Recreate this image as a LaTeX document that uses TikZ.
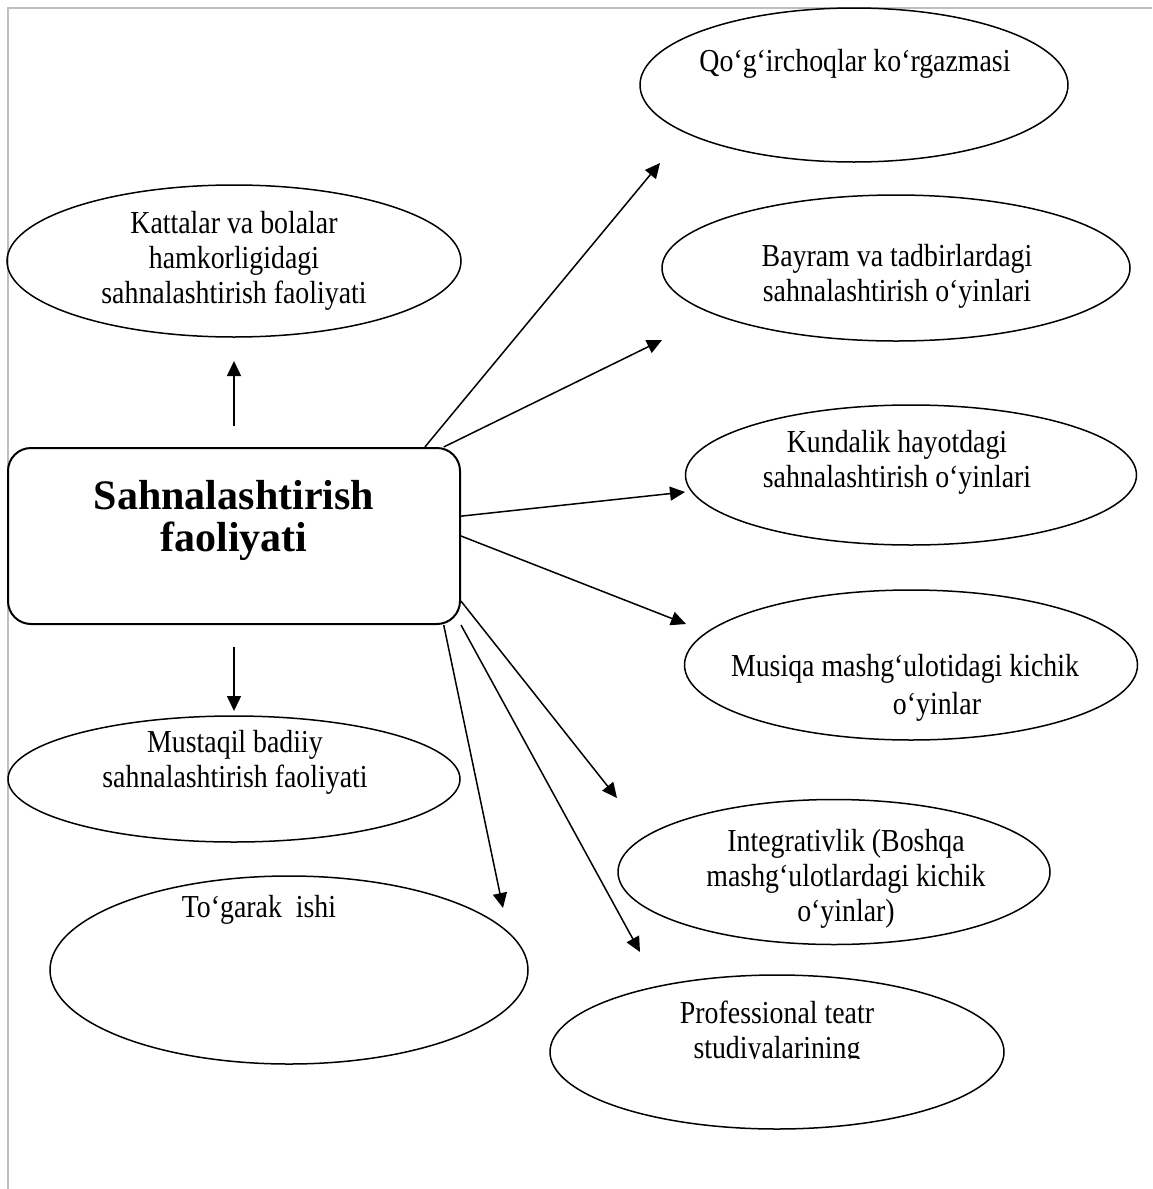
\documentclass[tikz,border=0pt]{standalone}
\usepackage{fontspec}
\setmainfont{Liberation Serif}
\newfontfamily\ovalfont[FakeStretch=0.87]{Liberation Serif}
\usetikzlibrary{shapes.geometric,arrows.meta,positioning}
\tikzset{
  oval/.style={ellipse, draw, line width=1.5pt, inner sep=0pt},
  ovaltext/.style={align=center, inner sep=0pt,
    font=\ovalfont\fontsize{32}{35}\selectfont},
  arr/.style={-{Triangle[length=15pt,width=14pt]}, line width=1.5pt}
}
\begin{document}
\begin{tikzpicture}[x=1pt,y=-1pt]
  \useasboundingbox (0,0) rectangle (1152,1189);
  \draw[black!25, line width=1.5pt] (8,1189) -- (8,8) -- (1152,8);

  % centre
  \node[draw, rounded corners=23pt, line width=2pt, inner sep=0pt,
    minimum width=452pt, minimum height=176pt] (box) at (234,536) {};
  \node[align=center, inner sep=0pt,
    font=\bfseries\fontsize{42}{42}\selectfont] (box-txt) at (234,520)
    {Sahnalashtirish\\faoliyati};

  % left side
  \node[oval, minimum width=454pt, minimum height=152pt] (adult) at (234,261) {};
  \node[ovaltext] (adult-txt) at (234,261)
    {Kattalar va bolalar\\hamkorligidagi\\sahnalashtirish faoliyati};
  \node[oval, minimum width=452pt, minimum height=126pt] (indep) at (234,779) {};
  \node[ovaltext] (indep-txt) at (235,762)
    {Mustaqil badiiy\\sahnalashtirish faoliyati};
  \node[oval, minimum width=478pt, minimum height=188pt] (club) at (289,970) {};
  \node[ovaltext] (club-txt) at (259,910) {To‘garak\ \ ishi};

  % right side
  \node[oval, minimum width=428pt, minimum height=154pt] (dolls) at (854,85) {};
  \node[ovaltext] (dolls-txt) at (855,64) {Qo‘g‘irchoqlar ko‘rgazmasi};
  \node[oval, minimum width=468pt, minimum height=146pt] (holiday) at (896,268) {};
  \node[ovaltext] (holiday-txt) at (897,276)
    {Bayram va tadbirlardagi\\sahnalashtirish o‘yinlari};
  \node[oval, minimum width=451pt, minimum height=140pt] (daily) at (911,475) {};
  \node[ovaltext] (daily-txt) at (897,462)
    {Kundalik hayotdagi\\sahnalashtirish o‘yinlari};
  \node[oval, minimum width=453pt, minimum height=150pt] (music) at (911,665) {};
  \node[ovaltext, font=\ovalfont\fontsize{32}{38}\selectfont] (music-txt) at (905,688)
    {Musiqa mashg‘ulotidagi kichik\\\hspace*{64pt}o‘yinlar};
  \node[oval, minimum width=432pt, minimum height=145pt] (integ) at (834,872) {};
  \node[ovaltext] (integ-txt) at (846,879)
    {Integrativlik (Boshqa\\mashg‘ulotlardagi kichik\\o‘yinlar)};
  \node[oval, minimum width=454pt, minimum height=154pt] (prof) at (777,1052) {};
  \begin{scope}
    \clip (540,990) rectangle (1010,1058);
    \node[ovaltext] (prof-txt) at (777,1033) {Professional teatr\\studiyalarining};
  \end{scope}

  % arrow ends
  \coordinate (adult-tip) at (234,361);
  \coordinate (indep-tip) at (234,711);
  \coordinate (dolls-tip) at (660,163);
  \coordinate (holiday-tip) at (662,340);
  \coordinate (daily-tip) at (685,492);
  \coordinate (music-tip) at (686,624);
  \coordinate (integ-tip) at (617,798);
  \coordinate (prof-tip) at (640,952);
  \coordinate (club-tip) at (503,908);

  \draw[arr, shorten <=21pt] (box.north) -- (adult-tip);
  \draw[arr, shorten <=22pt] (box.south) -- (indep-tip);
  \draw[arr] (box.25.9) -- (dolls-tip);
  \draw[arr] (box.23.4) -- (holiday-tip);
  \draw[arr] (box.5.8) -- (daily-tip);
  \draw[arr] (box.-0.3) -- (music-tip);
  \draw[arr] (box.-16.3) -- (integ-tip);
  \draw[arr] (box.south east) -- (prof-tip);
  \draw[arr] (box.-23.4) -- (club-tip);
\end{tikzpicture}
\end{document}
